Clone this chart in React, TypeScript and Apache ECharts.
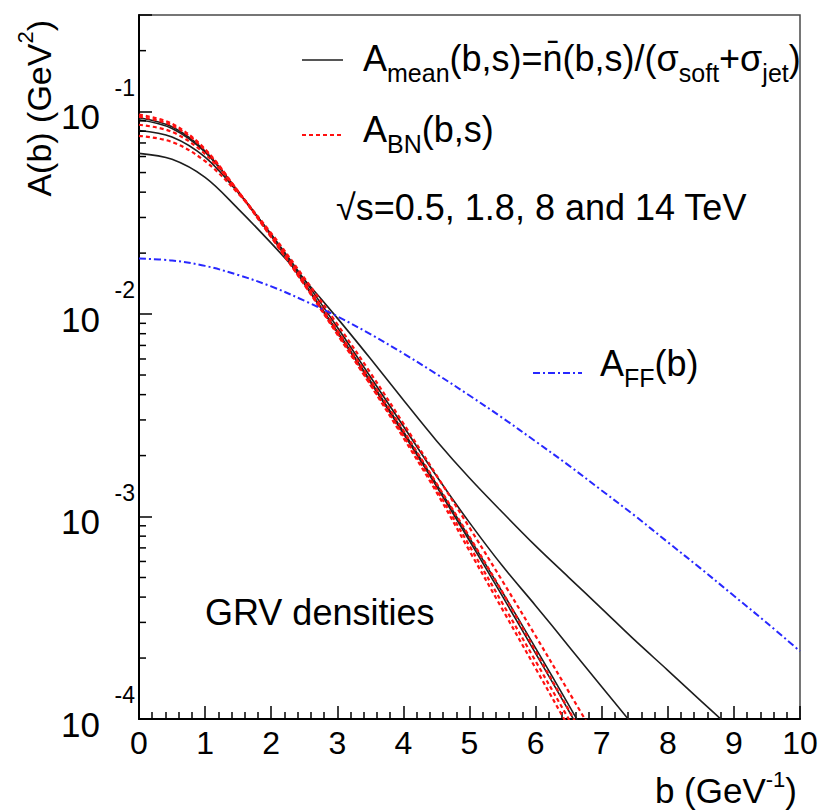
import React, { useEffect, useRef } from 'react';
import * as echarts from 'echarts';

// impact parameter grid b (GeV^-1)
const B_STEPS = [0, 0.5, 1, 1.5, 2, 2.5, 3, 3.5, 4, 4.5, 5, 5.5, 6, 6.5, 7, 7.5, 8, 8.5, 9, 9.5, 10];

// A_mean(b,s) — black solid, four energies
const meanCurve1 = [9.33e-2, 8.41e-2, 6.38e-2, 4.03e-2, 2.43e-2, 1.41e-2, 8.13e-3, 4.62e-3, 2.57e-3, 1.41e-3, 7.59e-4, 4.03e-4, 2.11e-4, 1.10e-4, 5.62e-5];
const meanCurve2 = [9.12e-2, 8.26e-2, 6.31e-2, 4.03e-2, 2.44e-2, 1.43e-2, 8.22e-3, 4.68e-3, 2.63e-3, 1.445e-3, 7.85e-4, 4.22e-4, 2.24e-4, 1.175e-4, 6.03e-5];
const meanCurve3 = [8.07e-2, 7.5e-2, 5.96e-2, 3.98e-2, 2.48e-2, 1.48e-2, 8.61e-3, 4.9e-3, 2.79e-3, 1.585e-3, 9.33e-4, 5.69e-4, 3.63e-4, 2.29e-4, 1.445e-4, 9.12e-5];
const meanCurve4 = [6.22e-2, 5.81e-2, 4.73e-2, 3.31e-2, 2.24e-2, 1.48e-2, 9.55e-3, 6.03e-3, 3.76e-3, 2.37e-3, 1.55e-3, 1.047e-3, 7.16e-4, 5.01e-4, 3.51e-4, 2.45e-4, 1.74e-4, 1.23e-4, 8.71e-5];

// A_BN(b,s) — red dashed, four energies
const bnCurve1 = [9.66e-2, 8.71e-2, 6.53e-2, 4.03e-2, 2.4e-2, 1.4e-2, 7.94e-3, 4.47e-3, 2.45e-3, 1.32e-3, 6.76e-4, 3.47e-4, 1.78e-4, 9.12e-5, 4.68e-5];
const bnCurve2 = [9.44e-2, 8.55e-2, 6.46e-2, 4.03e-2, 2.4e-2, 1.4e-2, 8.04e-3, 4.52e-3, 2.51e-3, 1.365e-3, 7.16e-4, 3.72e-4, 1.93e-4, 1.0e-4, 5.13e-5];
const bnCurve3 = [8.61e-2, 7.94e-2, 6.17e-2, 4.03e-2, 2.45e-2, 1.445e-2, 8.32e-3, 4.73e-3, 2.66e-3, 1.46e-3, 7.94e-4, 4.22e-4, 2.16e-4, 1.11e-4, 5.69e-5];
const bnCurve4 = [7.59e-2, 7.08e-2, 5.69e-2, 3.94e-2, 2.51e-2, 1.51e-2, 8.91e-3, 5.13e-3, 2.88e-3, 1.6e-3, 8.81e-4, 4.79e-4, 2.57e-4, 1.365e-4, 7.24e-5];

// A_FF(b) — blue dash-dot
const ffCurve = [1.88e-2, 1.84e-2, 1.73e-2, 1.56e-2, 1.37e-2, 1.165e-2, 9.74e-3, 7.96e-3, 6.39e-3, 5.06e-3, 3.96e-3, 3.07e-3, 2.35e-3, 1.79e-3, 1.345e-3, 1.01e-3, 7.47e-4, 5.53e-4, 4.06e-4, 2.98e-4, 2.16e-4];

// y-axis decade labels (10^exp) and log minor tick positions
const yMajorTicks = [1e-4, 1e-3, 1e-2, 1e-1];
const yMajorExponents = ['-4', '-3', '-2', '-1'];
const yMinorTicks = [
  2e-4, 3e-4, 4e-4, 5e-4, 6e-4, 7e-4, 8e-4, 9e-4,
  2e-3, 3e-3, 4e-3, 5e-3, 6e-3, 7e-3, 8e-3, 9e-3,
  2e-2, 3e-2, 4e-2, 5e-2, 6e-2, 7e-2, 8e-2, 9e-2,
  2e-1,
];

const FONT = '"Liberation Sans", Arial, Helvetica, sans-serif';
const BLACK = '#1e1e1e';
const RED = '#ff1010';
const BLUE = '#2828ff';

const toPairs = (arr: number[]) => arr.map((v, i) => [B_STEPS[i], v]);

const lineSeries = (data: number[], color: string, type: any, width: number) => ({
  type: 'line',
  data: toPairs(data),
  smooth: 0.35,
  showSymbol: false,
  symbol: 'none',
  clip: true,
  silent: true,
  emphasis: { disabled: true },
  lineStyle: { color, width, type },
});

export default function App() {
  const ref = useRef<HTMLDivElement>(null);

  useEffect(() => {
    if (!ref.current) return;
    const chart = echarts.init(ref.current, null, { renderer: 'svg' });

    const mainRich = (size: number, lh: number) => ({
      fontSize: size, lineHeight: lh, fontFamily: FONT, fill: '#000',
    });
    const subRich = { fontSize: 25, lineHeight: 25, verticalAlign: 'bottom', fontFamily: FONT, fill: '#000' };

    const option: any = {
      animation: false,
      backgroundColor: '#ffffff',
      textStyle: { fontFamily: FONT },
      grid: {
        left: 139, top: 15, width: 661, height: 704,
        show: true, borderColor: '#4a4a4a', borderWidth: 1.5,
        containLabel: false, outerBoundsMode: 'none',
      },
      xAxis: {
        type: 'value', min: 0, max: 10, interval: 1,
        axisLine: { show: true, onZero: false, lineStyle: { color: '#000', width: 2 } },
        axisTick: { show: true, inside: true, length: 13, lineStyle: { color: '#000', width: 1.5 } },
        minorTick: { show: true, splitNumber: 5, length: 7, lineStyle: { color: '#000', width: 1.5 } },
        splitLine: { show: false },
        axisLabel: { fontSize: 32, color: '#000', margin: 8, fontFamily: FONT },
      },
      yAxis: {
        type: 'log', logBase: 10, min: 1e-4, max: 0.3,
        axisLine: { show: true, lineStyle: { color: '#000', width: 2 } },
        axisTick: { show: true, inside: true, length: 13, lineStyle: { color: '#000', width: 1.5 } },
        splitLine: { show: false },
        axisLabel: { show: false },
      },
      graphic: [
        // legend samples
        { type: 'line', shape: { x1: 302, y1: 60, x2: 343, y2: 60 }, style: { stroke: BLACK, lineWidth: 1.6 } },
        { type: 'line', shape: { x1: 302, y1: 135, x2: 343, y2: 135 }, style: { stroke: RED, lineWidth: 2, lineDash: [4, 3] } },
        { type: 'line', shape: { x1: 533, y1: 373, x2: 582, y2: 373 }, style: { stroke: BLUE, lineWidth: 2, lineDash: [7, 3, 2, 3] } },
        {
          type: 'text', x: 363, y: 58,
          style: {
            text: '{m|A}{s|mean}{m|(b,s)=n\u0304(b,s)/(\u03c3}{s|soft}{m|+\u03c3}{s|jet}{m|)}',
            align: 'left', verticalAlign: 'middle', fontFamily: FONT, fontSize: 36,
            rich: { m: mainRich(36, 54), s: subRich },
          },
        },
        {
          type: 'text', x: 363, y: 129,
          style: {
            text: '{m|A}{s|BN}{m|(b,s)}',
            align: 'left', verticalAlign: 'middle', fontFamily: FONT, fontSize: 36,
            rich: { m: mainRich(36, 54), s: subRich },
          },
        },
        {
          type: 'text', x: 336, y: 207,
          style: { text: '\u221as=0.5, 1.8, 8 and 14 TeV', align: 'left', verticalAlign: 'middle', fontFamily: FONT, fontSize: 36, fill: '#000' },
        },
        {
          type: 'text', x: 600, y: 363,
          style: {
            text: '{m|A}{s|FF}{m|(b)}',
            align: 'left', verticalAlign: 'middle', fontFamily: FONT, fontSize: 36,
            rich: { m: mainRich(36, 54), s: subRich },
          },
        },
        {
          type: 'text', x: 205, y: 612,
          style: { text: 'GRV densities', align: 'left', verticalAlign: 'middle', fontFamily: FONT, fontSize: 36, fill: '#000' },
        },
        {
          type: 'text', x: 797, y: 790,
          style: {
            text: '{m|b (GeV}{p|-1}{m|)}',
            align: 'right', verticalAlign: 'middle', fontFamily: FONT, fontSize: 35,
            rich: {
              m: mainRich(35, 44),
              p: { fontSize: 22, lineHeight: 22, verticalAlign: 'top', fontFamily: FONT, fill: '#000' },
            },
          },
        },
        {
          type: 'text', x: 39, y: 20, rotation: Math.PI / 2,
          style: {
            text: '{m|A(b) (GeV}{p|2}{m|)}',
            align: 'right', verticalAlign: 'middle', fontFamily: FONT, fontSize: 34,
            rich: {
              m: mainRich(34, 50),
              p: { fontSize: 22, lineHeight: 22, verticalAlign: 'top', fontFamily: FONT, fill: '#000' },
            },
          },
        },
      ],
      series: [
        lineSeries(meanCurve1, BLACK, 'solid', 1.6),
        lineSeries(meanCurve2, BLACK, 'solid', 1.6),
        lineSeries(meanCurve3, BLACK, 'solid', 1.6),
        lineSeries(meanCurve4, BLACK, 'solid', 1.6),
        lineSeries(bnCurve1, RED, [4, 3], 2.2),
        lineSeries(bnCurve2, RED, [4, 3], 2.2),
        lineSeries(bnCurve3, RED, [4, 3], 2.2),
        lineSeries(bnCurve4, RED, [4, 3], 2.2),
        lineSeries(ffCurve, BLUE, [7, 3, 2, 3], 2),
        {
          // log-scale minor ticks on the y axis
          type: 'custom',
          data: yMinorTicks.map((v) => [0, v]),
          clip: false,
          silent: true,
          z: 5,
          renderItem: (_params: any, api: any) => {
            const p = api.coord([api.value(0), api.value(1)]);
            return {
              type: 'line',
              shape: { x1: p[0], y1: p[1], x2: p[0] + 7, y2: p[1] },
              style: { stroke: '#000', lineWidth: 1.5 },
            };
          },
        },
        {
          // y-axis decade labels in ROOT style: "10" with a raised exponent
          type: 'custom',
          data: yMajorTicks.map((v, i) => [0, v, i]),
          clip: false,
          silent: true,
          z: 5,
          renderItem: (_params: any, api: any) => {
            const p = api.coord([api.value(0), api.value(1)]);
            const exp = yMajorExponents[api.value(2)];
            return {
              type: 'group',
              children: [
                {
                  type: 'text', x: p[0] - 39, y: p[1] + 5,
                  style: { text: '10', fontSize: 35, fontFamily: FONT, fill: '#000', align: 'right', verticalAlign: 'middle' },
                },
                {
                  type: 'text', x: p[0] - 4, y: p[1] - 24,
                  style: { text: exp, fontSize: 23, fontFamily: FONT, fill: '#000', align: 'right', verticalAlign: 'middle' },
                },
              ],
            };
          },
        },
      ],
    };

    chart.setOption(option);
    return () => chart.dispose();
  }, []);

  return (
    <div
      ref={ref}
      style={{ position: 'absolute', left: 0, top: 0, width: 823, height: 810, background: '#fff' }}
    />
  );
}
